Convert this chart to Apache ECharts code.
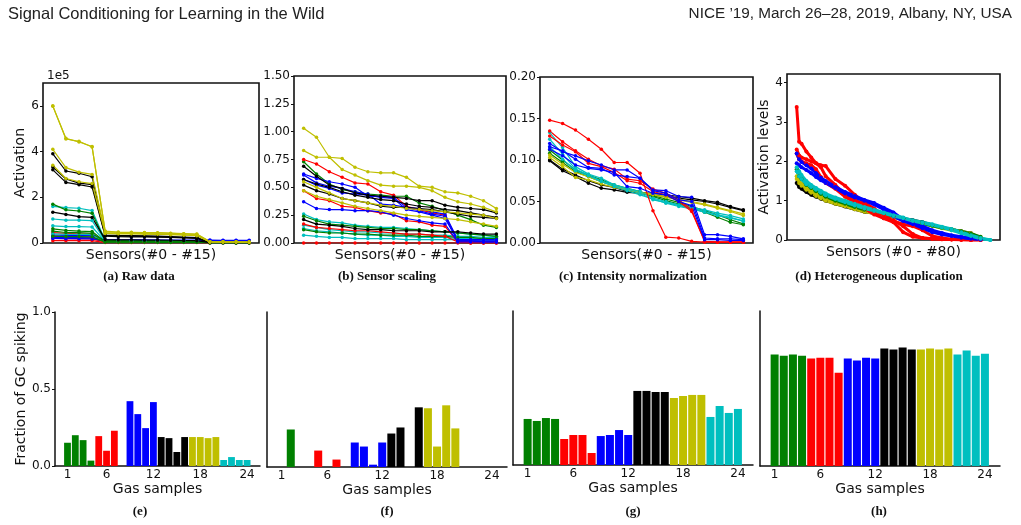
<!DOCTYPE html>
<html>
<head>
<meta charset="utf-8">
<script src="https://cdn.jsdelivr.net/npm/echarts@6/dist/echarts.min.js"></script>
<style>
  html, body { margin: 0; padding: 0; background: #fff; }
  #main { width: 1021px; height: 525px; }
</style>
</head>
<body>
<div id="main"></div>
<script>
// sensor indexes and gas samples
var sensors16 = [0,1,2,3,4,5,6,7,8,9,10,11,12,13,14,15];
var dSensors = [0,1,2,4,6,8,10,12,16,20,24,28,32,36,40,44,48,52,56,60,64,68,72,76,80];
var samples = [1,2,3,4,5,6,7,8,9,10,11,12,13,14,15,16,17,18,19,20,21,22,23,24];
var sampleTicks = [1,6,12,18,24];
var gasColors = ['#008000','#ff0000','#0000ff','#000000','#bfbf00','#00bfbf'];

// (a) raw data, in units of 1e5
var rawGreen = [
  [1.70,1.45,1.40,1.30,0.10,0.10,0.09,0.09,0.09,0.08,0.08,0.07,0.02,0.02,0.02,0.02],
  [0.62,0.55,0.52,0.50,0.06,0.06,0.06,0.05,0.05,0.05,0.05,0.04,0.02,0.02,0.02,0.02],
  [0.52,0.46,0.45,0.42,0.05,0.05,0.05,0.05,0.04,0.04,0.04,0.04,0.02,0.02,0.01,0.01],
  [0.30,0.28,0.28,0.27,0.04,0.04,0.04,0.04,0.04,0.03,0.03,0.03,0.01,0.01,0.01,0.01]
];
var rawRed = [
  [0.45,0.42,0.40,0.38,0.08,0.08,0.07,0.07,0.07,0.06,0.06,0.05,0.01,0.01,0.01,0.01],
  [0.30,0.28,0.27,0.26,0.06,0.06,0.05,0.05,0.05,0.05,0.04,0.04,0.01,0.01,0.01,0.01],
  [0.20,0.19,0.18,0.18,0.04,0.04,0.04,0.04,0.04,0.03,0.03,0.03,0.01,0.01,0.01,0.01],
  [0.10,0.10,0.10,0.10,0.02,0.02,0.02,0.02,0.02,0.02,0.02,0.02,0.00,0.00,0.00,0.00]
];
var rawBlue = [
  [0.35,0.33,0.33,0.32,0.14,0.14,0.14,0.14,0.13,0.13,0.13,0.13,0.13,0.12,0.12,0.12],
  [0.25,0.24,0.24,0.23,0.12,0.12,0.12,0.12,0.12,0.11,0.11,0.11,0.11,0.11,0.11,0.10],
  [0.20,0.19,0.19,0.18,0.10,0.10,0.10,0.10,0.10,0.10,0.10,0.09,0.09,0.09,0.09,0.09]
];
var rawBlack = [
  [3.90,3.15,3.05,2.90,0.35,0.33,0.32,0.31,0.30,0.28,0.26,0.24,0.03,0.03,0.03,0.03],
  [3.32,2.80,2.62,2.55,0.33,0.30,0.30,0.29,0.28,0.26,0.24,0.22,0.03,0.03,0.03,0.03],
  [3.20,2.65,2.55,2.45,0.30,0.28,0.27,0.27,0.26,0.24,0.22,0.20,0.03,0.03,0.02,0.02],
  [1.35,1.25,1.15,1.12,0.15,0.14,0.14,0.13,0.13,0.12,0.11,0.10,0.02,0.02,0.02,0.02]
];
var rawYellow = [
  [6.00,4.55,4.45,4.20,0.50,0.46,0.46,0.45,0.44,0.42,0.40,0.38,0.05,0.05,0.04,0.04],
  [5.98,4.58,4.42,4.22,0.52,0.48,0.47,0.46,0.45,0.43,0.41,0.39,0.06,0.05,0.05,0.04],
  [4.10,3.30,3.10,3.00,0.45,0.42,0.42,0.41,0.40,0.38,0.36,0.34,0.05,0.04,0.04,0.04],
  [3.40,2.82,2.68,2.60,0.42,0.40,0.40,0.39,0.38,0.36,0.34,0.32,0.04,0.04,0.04,0.03]
];
var rawCyan = [
  [1.60,1.55,1.52,1.42,0.12,0.11,0.11,0.10,0.10,0.09,0.09,0.08,0.02,0.02,0.02,0.02],
  [1.05,1.00,1.00,0.98,0.09,0.09,0.08,0.08,0.08,0.07,0.07,0.07,0.02,0.02,0.02,0.02],
  [0.75,0.72,0.72,0.70,0.07,0.07,0.07,0.06,0.06,0.06,0.06,0.05,0.01,0.01,0.01,0.01],
  [0.40,0.38,0.38,0.37,0.05,0.05,0.05,0.05,0.04,0.04,0.04,0.04,0.01,0.01,0.01,0.01]
];

// (b) sensor scaling
var scGreen = [
  [0.73,0.62,0.53,0.48,0.46,0.44,0.43,0.42,0.42,0.36,0.33,0.29,0.25,0.21,0.16,0.14],
  [0.24,0.20,0.17,0.16,0.15,0.14,0.13,0.13,0.12,0.12,0.11,0.10,0.09,0.08,0.07,0.06],
  [0.12,0.10,0.09,0.09,0.08,0.08,0.07,0.07,0.07,0.06,0.06,0.06,0.05,0.05,0.04,0.04]
];
var scRed = [
  [0.75,0.71,0.64,0.59,0.54,0.53,0.46,0.43,0.33,0.30,0.27,0.25,0.02,0.01,0.01,0.01],
  [0.47,0.40,0.38,0.33,0.32,0.29,0.27,0.26,0.20,0.19,0.16,0.15,0.01,0.01,0.01,0.01],
  [0.17,0.14,0.13,0.12,0.11,0.11,0.10,0.09,0.08,0.08,0.07,0.06,0.01,0.00,0.00,0.00],
  [0.00,0.00,0.00,0.00,0.00,0.00,0.00,0.00,0.00,0.00,0.00,0.00,0.00,0.00,0.00,0.00]
];
var scBlue = [
  [0.62,0.58,0.55,0.53,0.50,0.42,0.42,0.41,0.32,0.31,0.28,0.26,0.03,0.03,0.03,0.03],
  [0.61,0.54,0.51,0.49,0.46,0.44,0.35,0.34,0.32,0.29,0.26,0.24,0.02,0.02,0.02,0.02],
  [0.57,0.52,0.49,0.45,0.44,0.43,0.41,0.40,0.30,0.28,0.25,0.22,0.02,0.02,0.01,0.01],
  [0.37,0.31,0.30,0.30,0.29,0.29,0.28,0.25,0.22,0.20,0.18,0.17,0.01,0.01,0.01,0.01]
];
var scBlack = [
  [0.69,0.60,0.52,0.49,0.45,0.43,0.42,0.41,0.40,0.38,0.38,0.34,0.32,0.31,0.30,0.27],
  [0.57,0.53,0.50,0.46,0.43,0.41,0.39,0.38,0.35,0.33,0.32,0.30,0.29,0.27,0.25,0.23],
  [0.52,0.47,0.44,0.40,0.38,0.36,0.33,0.32,0.32,0.31,0.30,0.28,0.26,0.24,0.23,0.22],
  [0.21,0.17,0.16,0.15,0.13,0.12,0.12,0.11,0.11,0.11,0.10,0.10,0.10,0.09,0.08,0.08]
];
var scYellow = [
  [1.03,0.95,0.77,0.66,0.61,0.56,0.52,0.51,0.51,0.50,0.47,0.41,0.37,0.35,0.32,0.28],
  [0.83,0.77,0.77,0.76,0.68,0.64,0.63,0.63,0.59,0.51,0.50,0.46,0.45,0.42,0.38,0.31],
  [0.55,0.50,0.45,0.40,0.38,0.36,0.34,0.33,0.31,0.30,0.29,0.28,0.27,0.26,0.25,0.22],
  [0.47,0.42,0.39,0.36,0.33,0.31,0.29,0.27,0.25,0.24,0.23,0.22,0.21,0.19,0.17,0.15]
];
var scCyan = [
  [0.26,0.21,0.19,0.18,0.16,0.15,0.14,0.14,0.13,0.12,0.11,0.10,0.09,0.08,0.07,0.06],
  [0.16,0.14,0.12,0.11,0.10,0.10,0.09,0.09,0.08,0.08,0.07,0.07,0.06,0.06,0.05,0.05],
  [0.13,0.11,0.10,0.09,0.08,0.07,0.07,0.06,0.06,0.05,0.05,0.05,0.04,0.04,0.04,0.03],
  [0.07,0.06,0.05,0.05,0.04,0.04,0.04,0.04,0.03,0.03,0.03,0.03,0.03,0.02,0.02,0.02]
];

// (c) intensity normalization
var inGreen = [
  [0.112,0.100,0.088,0.082,0.076,0.070,0.066,0.062,0.057,0.053,0.049,0.044,0.039,0.034,0.028,0.023],
  [0.108,0.097,0.086,0.080,0.074,0.069,0.065,0.060,0.056,0.051,0.047,0.042,0.037,0.031,0.025,0.022]
];
var inRed = [
  [0.148,0.144,0.136,0.125,0.113,0.097,0.097,0.084,0.039,0.007,0.006,0.002,0.001,0.001,0.001,0.001],
  [0.135,0.122,0.111,0.101,0.093,0.089,0.077,0.075,0.065,0.060,0.052,0.040,0.002,0.001,0.001,0.001],
  [0.129,0.118,0.110,0.096,0.092,0.085,0.075,0.072,0.062,0.058,0.050,0.038,0.002,0.001,0.001,0.001]
];
var inBlue = [
  [0.120,0.110,0.105,0.099,0.094,0.088,0.088,0.078,0.064,0.063,0.056,0.055,0.010,0.010,0.008,0.005],
  [0.116,0.111,0.101,0.091,0.090,0.082,0.080,0.078,0.063,0.060,0.052,0.050,0.006,0.005,0.005,0.004],
  [0.113,0.105,0.094,0.090,0.088,0.085,0.068,0.066,0.060,0.058,0.050,0.045,0.004,0.004,0.003,0.003]
];
var inBlack = [
  [0.099,0.087,0.080,0.072,0.066,0.064,0.061,0.060,0.060,0.058,0.056,0.054,0.051,0.049,0.044,0.040],
  [0.100,0.089,0.082,0.075,0.070,0.067,0.062,0.061,0.058,0.056,0.054,0.052,0.050,0.047,0.043,0.039]
];
var inYellow = [
  [0.106,0.095,0.085,0.080,0.074,0.069,0.065,0.061,0.059,0.056,0.053,0.050,0.047,0.043,0.039,0.035],
  [0.103,0.092,0.079,0.076,0.071,0.067,0.064,0.060,0.058,0.055,0.052,0.049,0.046,0.042,0.038,0.033]
];
var inCyan = [
  [0.133,0.115,0.092,0.083,0.078,0.070,0.066,0.062,0.054,0.050,0.046,0.043,0.040,0.036,0.033,0.029],
  [0.125,0.107,0.089,0.082,0.075,0.070,0.065,0.060,0.052,0.049,0.045,0.042,0.038,0.034,0.031,0.026],
  [0.116,0.101,0.087,0.081,0.074,0.068,0.063,0.058,0.053,0.048,0.044,0.041,0.037,0.033,0.030,0.027]
];

// (d) heterogeneous duplication, values at dSensors
var dupGreen = [
  [1.80,1.62,1.55,1.40,1.32,1.24,1.17,1.10,1.00,0.92,0.84,0.77,0.72,0.66,0.60,0.55,0.48,0.42,0.36,0.31,0.27,0.22,0.16,0.08,'-']
];
var dupRed = [
  [3.38,2.50,2.45,2.25,2.10,1.95,1.85,1.62,1.40,1.15,1.02,0.90,0.70,0.55,0.45,0.20,0.08,0.05,0.03,0.02,0.01,0.01,0.00,0.00,'-'],
  [2.30,2.15,2.10,2.05,2.00,1.95,1.90,1.88,1.55,1.38,1.15,0.95,0.80,0.62,0.50,0.35,0.15,0.05,0.03,0.02,0.01,0.00,0.00,0.00,'-'],
  [2.20,2.05,2.00,1.95,1.90,1.80,1.60,1.45,1.30,1.10,0.95,0.80,0.65,0.55,0.48,0.40,0.35,0.25,0.10,0.05,0.02,0.01,0.00,0.00,'-']
];
var dupBlue = [
  [2.20,2.05,1.98,1.90,1.82,1.70,1.58,1.50,1.35,1.22,1.12,1.02,0.94,0.82,0.70,0.52,0.42,0.35,0.25,0.18,0.12,0.08,0.05,0.02,'-'],
  [1.95,1.90,1.85,1.78,1.70,1.60,1.52,1.45,1.32,1.18,1.08,1.00,0.90,0.78,0.60,0.48,0.40,0.30,0.20,0.14,0.10,0.06,0.03,0.01,'-']
];
var dupBlack = [
  [1.45,1.35,1.30,1.22,1.15,1.10,1.05,1.00,0.92,0.85,0.78,0.72,0.68,0.64,0.60,0.55,0.50,0.45,0.38,0.32,0.27,0.22,0.17,0.05,'-']
];
var dupYellow = [
  [1.62,1.50,1.42,1.32,1.25,1.18,1.10,1.03,0.95,0.88,0.80,0.74,0.70,0.65,0.58,0.53,0.48,0.43,0.38,0.32,0.27,0.22,0.17,0.05,'-'],
  [1.55,1.45,1.38,1.28,1.20,1.12,1.06,1.00,0.92,0.86,0.78,0.72,0.68,0.63,0.57,0.52,0.46,0.41,0.36,0.30,0.25,0.20,0.15,0.03,'-']
];
var dupCyan = [
  [1.85,1.75,1.65,1.50,1.40,1.32,1.25,1.18,1.08,1.00,0.92,0.84,0.77,0.70,0.63,0.57,0.50,0.45,0.40,0.34,0.28,0.20,0.12,0.05,0.00],
  [1.75,1.62,1.55,1.42,1.35,1.28,1.20,1.14,1.04,0.96,0.88,0.80,0.74,0.68,0.61,0.55,0.48,0.43,0.38,0.32,0.25,0.17,0.10,0.03,0.00]
];

// (e)-(h) fraction of GC spiking per gas sample
var gcRaw = [0.151,0.200,0.168,0.035,0.194,0.099,0.229,0,0.421,0.337,0.246,0.415,0.188,0.181,0.091,0.188,0.188,0.188,0.181,0.188,0.039,0.058,0.039,0.039];
var gcScaled = [0,0.242,0,0,0.106,0,0.048,0,0.158,0.132,0.015,0.158,0.216,0.255,0,0.385,0.379,0.132,0.398,0.249,0,0,0,0];
var gcNorm = [0.299,0.286,0.305,0.299,0.169,0.195,0.195,0.078,0.188,0.195,0.227,0.195,0.481,0.481,0.474,0.474,0.435,0.448,0.455,0.455,0.312,0.383,0.338,0.364];
var gcDup = [0.719,0.712,0.719,0.712,0.693,0.699,0.699,0.602,0.693,0.680,0.699,0.693,0.758,0.751,0.764,0.751,0.751,0.758,0.751,0.758,0.719,0.745,0.712,0.725];

var FONT = 'DejaVu Sans';
var myChart = echarts.init(document.getElementById('main'), null, {renderer: 'canvas'});

var series = [];
function addLines(groups, xs, idx, size, width) {
    // groups: [[lines, color], ...]
    groups.forEach(function (g) {
        g[0].forEach(function (vals) {
            series.push({
                type: 'line',
                xAxisIndex: idx, yAxisIndex: idx,
                data: xs.map(function (x, i) { return [x, vals[i]]; }),
                symbol: 'circle', symbolSize: size,
                lineStyle: {width: width, color: g[1]},
                itemStyle: {color: g[1]},
                silent: true
            });
        });
    });
}
addLines([[rawRed,'#ff0000'],[rawBlue,'#0000ff'],[rawCyan,'#00bfbf'],[rawGreen,'#008000'],[rawBlack,'#000000'],[rawYellow,'#bfbf00']], sensors16, 0, 3.5, 1.2);
addLines([[scCyan,'#00bfbf'],[scGreen,'#008000'],[scRed,'#ff0000'],[scBlue,'#0000ff'],[scBlack,'#000000'],[scYellow,'#bfbf00']], sensors16, 1, 3.5, 1.2);
addLines([[inBlack,'#000000'],[inGreen,'#008000'],[inYellow,'#bfbf00'],[inCyan,'#00bfbf'],[inRed,'#ff0000'],[inBlue,'#0000ff']], sensors16, 2, 3.5, 1.2);
addLines([[dupBlack,'#000000'],[dupYellow,'#bfbf00'],[dupGreen,'#008000'],[dupRed,'#ff0000'],[dupBlue,'#0000ff'],[dupCyan,'#00bfbf']], dSensors, 3, 4, 3);

[gcRaw, gcScaled, gcNorm, gcDup].forEach(function (vals, k) {
    series.push({
        type: 'bar',
        xAxisIndex: 4 + k, yAxisIndex: 4 + k,
        barWidth: k === 0 ? 6.8 : 8,
        data: samples.map(function (s, i) {
            return {value: [s, vals[i]], itemStyle: {color: gasColors[Math.floor(i / 4)]}};
        }),
        silent: true
    });
});

var topGrids = [
    {left: 43, top: 83, width: 216, height: 160},
    {left: 294, top: 76, width: 212, height: 167},
    {left: 540, top: 77, width: 213, height: 166},
    {left: 787, top: 74, width: 213, height: 166}
];
var botGrids = [
    {left: 55, top: 312, width: 205, height: 154},
    {left: 267, top: 312, width: 240, height: 155},
    {left: 513, top: 311, width: 240, height: 154},
    {left: 760, top: 311, width: 240, height: 155}
];
var grids = topGrids.map(function (g) {
    return Object.assign({show: true, borderColor: '#111', borderWidth: 1.6, backgroundColor: 'transparent'}, g);
}).concat(botGrids);

var xNames = ['Sensors(#0 - #15)','Sensors(#0 - #15)','Sensors(#0 - #15)','Sensors (#0 - #80)'];
var xAxes = [];
var yAxes = [];
for (var i = 0; i < 4; i++) {
    xAxes.push({
        type: 'value', gridIndex: i,
        min: i === 3 ? -4 : -0.75, max: i === 3 ? 84 : 15.75,
        axisLine: {show: false, onZero: false}, axisTick: {show: false}, axisLabel: {show: false},
        splitLine: {show: false},
        name: xNames[i], nameLocation: 'middle', nameGap: 5,
        nameTextStyle: {fontFamily: FONT, fontSize: 14, color: '#111', verticalAlign: 'top'}
    });
}
var yMax = [7, 1.5, 0.2, 4.22];
var yInt = [2, 0.25, 0.05, 1];
var yDec = [0, 2, 2, 0];
var yNames = ['Activation', '', '', 'Activation levels'];
for (var i = 0; i < 4; i++) {
    (function (d) {
        yAxes.push({
            type: 'value', gridIndex: i, min: 0, max: yMax[i], interval: yInt[i],
            axisLine: {show: false, onZero: false},
            axisTick: {show: true, length: 3, lineStyle: {color: '#111'}},
            axisLabel: {fontFamily: FONT, fontSize: 12, color: '#111', margin: 4,
                showMaxLabel: (i === 1 || i === 2),
                formatter: function (v) { return v.toFixed(d); }},
            splitLine: {show: false},
            name: yNames[i], nameLocation: 'middle', nameGap: i === 0 ? 14 : 15,
            nameTextStyle: {fontFamily: FONT, fontSize: 14, color: '#111'}
        });
    })(yDec[i]);
}
for (var k = 0; k < 4; k++) {
    xAxes.push({
        type: 'value', gridIndex: 4 + k, min: -0.6, max: 25.65,
        axisLine: {show: true, onZero: false, lineStyle: {color: '#111', width: 1.5}},
        axisTick: {show: false},
        axisLabel: {fontFamily: FONT, fontSize: 12, color: '#111', margin: 3, customValues: sampleTicks},
        splitLine: {show: false},
        name: 'Gas samples', nameLocation: 'middle', nameGap: 16,
        nameTextStyle: {fontFamily: FONT, fontSize: 14, color: '#111'}
    });
    yAxes.push({
        type: 'value', gridIndex: 4 + k, min: 0, max: 1, interval: 0.5,
        axisLine: {show: true, onZero: false, lineStyle: {color: '#111', width: 1.5}},
        axisTick: {show: k === 0, length: 3, lineStyle: {color: '#111'}},
        axisLabel: {show: k === 0, fontFamily: FONT, fontSize: 12, color: '#111', margin: 4,
            formatter: function (v) { return v.toFixed(1); }},
        splitLine: {show: false},
        name: k === 0 ? 'Fraction of GC spiking' : '', nameLocation: 'middle', nameGap: 22,
        nameTextStyle: {fontFamily: FONT, fontSize: 14, color: '#111'}
    });
}

var capStyle = {fontFamily: 'Liberation Serif', fontSize: 13, fontWeight: 'bold', fill: '#111', textAlign: 'center', textVerticalAlign: 'middle'};
var captions = [
    ['(a) Raw data', 139, 277], ['(b) Sensor scaling', 387, 277],
    ['(c) Intensity normalization', 633, 277], ['(d) Heterogeneous duplication', 879, 277],
    ['(e)', 140, 512], ['(f)', 387, 512], ['(g)', 633, 512], ['(h)', 879, 512]
];

var option = {
    animation: false,
    backgroundColor: '#fff',
    grid: grids,
    xAxis: xAxes,
    yAxis: yAxes,
    series: series,
    graphic: [
        {type: 'text', x: 8, y: 6, style: {text: 'Signal Conditioning for Learning in the Wild', fontFamily: 'Liberation Sans', fontSize: 16.5, fill: '#222'}},
        {type: 'text', x: 1012, y: 6, style: {text: 'NICE \u201919, March 26\u201328, 2019, Albany, NY, USA', fontFamily: 'Liberation Sans', fontSize: 15.3, fill: '#222', textAlign: 'right'}},
        {type: 'text', x: 47, y: 70, style: {text: '1e5', fontFamily: FONT, fontSize: 12, fill: '#111'}}
    ].concat(captions.map(function (c) {
        return {type: 'text', x: c[1], y: c[2], style: Object.assign({text: c[0]}, capStyle)};
    }))
};
myChart.setOption(option);
</script>
</body>
</html>
